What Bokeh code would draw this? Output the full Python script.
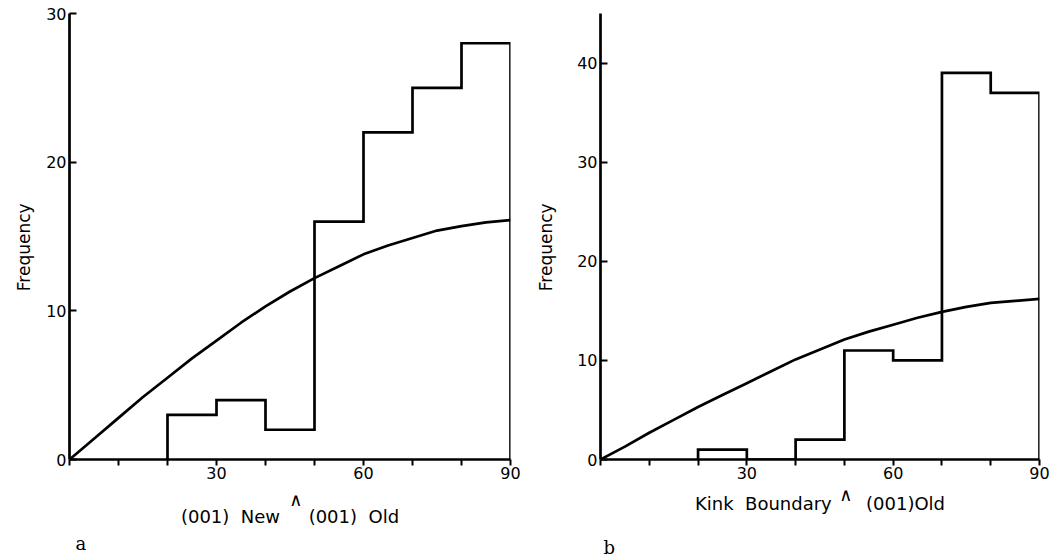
from bokeh.plotting import figure
from bokeh.layouts import row
from bokeh.models import Range1d, FixedTicker, Title
from bokeh.embed import file_html
from bokeh.resources import INLINE

# ---- data ----
bin_edges = [20, 30, 40, 50, 60, 70, 80, 90]
freq_a = [3, 4, 2, 16, 22, 25, 28]
freq_b = [1, 0, 2, 11, 10, 39, 37]

curve_angle = [0, 5, 10, 15, 20, 25, 30, 35, 40, 45, 50, 55, 60, 65, 70, 75, 80, 85, 90]
curve_a = [0, 1.4, 2.8, 4.2, 5.5, 6.8, 8.0, 9.2, 10.3, 11.3, 12.2, 13.0, 13.8, 14.4, 14.9, 15.4, 15.7, 15.95, 16.1]
curve_b = [0, 1.3, 2.7, 4.0, 5.3, 6.5, 7.7, 8.9, 10.1, 11.1, 12.1, 12.9, 13.6, 14.3, 14.9, 15.4, 15.8, 16.0, 16.2]

x_ticks = [0, 10, 20, 30, 40, 50, 60, 70, 80, 90]
x_tick_labels = {30: "30", 60: "60", 90: "90"}
y_ticks_a = [0, 10, 20, 30]
y_ticks_b = [0, 10, 20, 30, 40]

NB = "\u00a0"
WEDGE = "\u2227"
# first line: the raised wedge, second line: the label text
xlabel_a = NB * 2 + WEDGE + "\n" + "(001)" + NB * 2 + "New" + NB * 5 + "(001)" + NB * 2 + "Old"
xlabel_b = NB * 9 + WEDGE + "\n" + "Kink" + NB * 2 + "Boundary" + NB * 6 + "(001)Old"
ylabel = "Frequency" + NB * 4
panel_a = "a"
panel_b = NB + "\n" + "b"

FONT = "DejaVu Sans"
LW = 2.7


def outline(edges, counts):
    xs, ys = [edges[0]], [0]
    for i, c in enumerate(counts):
        xs += [edges[i], edges[i + 1]]
        ys += [c, c]
    xs.append(edges[-1])
    ys.append(0)
    return xs, ys


def make_panel(counts, curve, yticks, ymax, xlabel, letter, ml, mr, mt, mb,
               xl_standoff, xl_line_height, yl_standoff, letter_offset, letter_lh):
    p = figure(width=530, height=559, x_range=Range1d(0, 90), y_range=Range1d(0, ymax),
               output_backend="svg", toolbar_location=None,
               min_border_left=ml, min_border_right=mr, min_border_top=mt,
               min_border_bottom=mb)
    p.outline_line_color = None
    p.xgrid.visible = False
    p.ygrid.visible = False
    p.background_fill_color = "white"
    p.border_fill_color = "white"

    xs, ys = outline(bin_edges, counts)
    p.line(xs, ys, line_width=LW, color="black", line_join="miter")
    p.line(curve_angle, curve, line_width=LW, color="black")

    xa = p.xaxis[0]
    xa.ticker = FixedTicker(ticks=x_ticks)
    xa.major_label_overrides = {t: x_tick_labels.get(t, "") for t in x_ticks}
    xa.axis_line_width = LW
    xa.major_tick_line_width = 2
    xa.major_tick_out = 6
    xa.major_tick_in = 0
    xa.minor_tick_line_color = None
    xa.major_label_standoff = 1
    xa.major_label_text_font = FONT
    xa.major_label_text_font_size = "16px"
    xa.major_label_text_color = "black"
    xa.axis_label = xlabel
    xa.axis_label_text_font = FONT
    xa.axis_label_text_font_size = "18px"
    xa.axis_label_text_font_style = "normal"
    xa.axis_label_text_color = "black"
    xa.axis_label_text_line_height = xl_line_height
    xa.axis_label_standoff = xl_standoff

    ya = p.yaxis[0]
    ya.ticker = FixedTicker(ticks=yticks)
    ya.axis_line_width = LW
    ya.major_tick_line_width = 2
    ya.major_tick_out = 0
    ya.major_tick_in = 7
    ya.minor_tick_line_color = None
    ya.major_label_standoff = 3
    ya.major_label_text_font = FONT
    ya.major_label_text_font_size = "16px"
    ya.major_label_text_color = "black"
    ya.axis_label = ylabel
    ya.axis_label_text_font = FONT
    ya.axis_label_text_font_size = "17px"
    ya.axis_label_text_font_style = "normal"
    ya.axis_label_text_color = "black"
    ya.axis_label_standoff = yl_standoff

    p.add_layout(Title(text=letter, align="left", offset=letter_offset,
                       standoff=0, text_font="DejaVu Serif",
                       text_font_size="18px", text_font_style="normal",
                       text_line_height=letter_lh,
                       text_color="black"), "below")
    return p


pa = make_panel(freq_a, curve_a, y_ticks_a, 30, xlabel_a, panel_a,
                69, 20, 12, 99, 7, 0.85, 9, 6, 1.0)
pb = make_panel(freq_b, curve_b, y_ticks_b, 45, xlabel_b, panel_b,
                70, 21, 13, 100, 2, 0.45, 18, 3, 0.9)

layout = row(pa, pb)
open("out.html", "w").write(file_html(layout, INLINE))
